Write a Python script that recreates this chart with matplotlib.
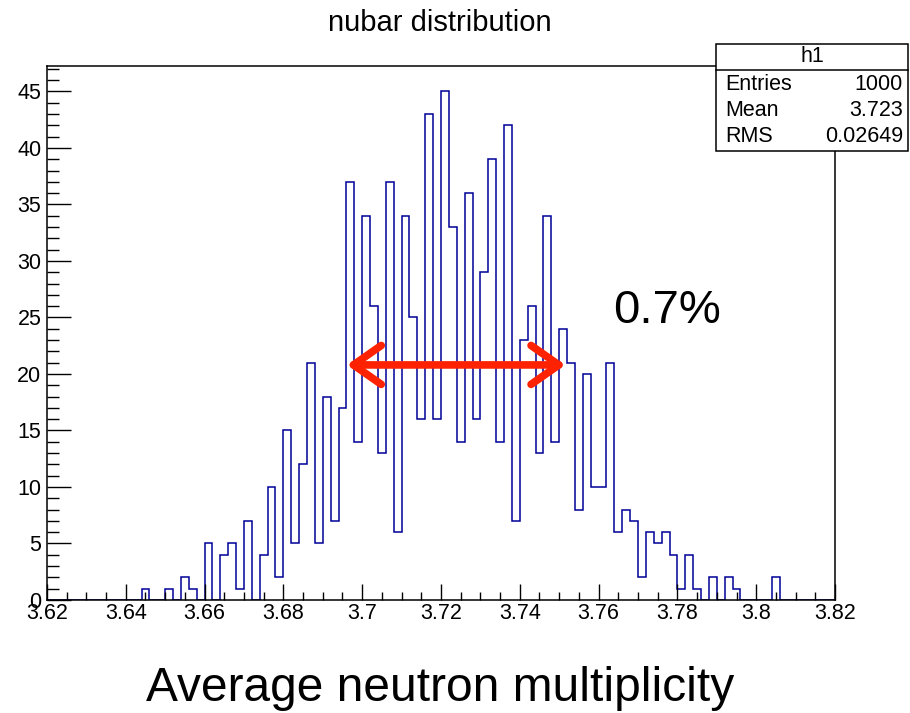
import numpy as np
import matplotlib
matplotlib.use("Agg")
import matplotlib.pyplot as plt
from matplotlib.patches import Rectangle, FancyArrowPatch

plt.rcParams['font.family'] = ['Liberation Sans', 'DejaVu Sans']

# histogram h1: 100 bins from 3.62 to 3.82
x_min, x_max, n_bins = 3.62, 3.82, 100
counts = [0, 0, 0, 0, 0, 0, 0, 0, 0, 0,
          0, 0, 1, 0, 0, 1, 0, 2, 1, 0,
          5, 0, 4, 5, 1, 7, 0, 4, 10, 2,
          15, 5, 12, 21, 5, 18, 7, 17, 37, 14,
          34, 26, 13, 37, 6, 34, 25, 16, 43, 16,
          45, 33, 14, 36, 16, 29, 39, 14, 42, 7,
          23, 26, 13, 34, 14, 24, 21, 8, 20, 10,
          10, 21, 6, 8, 7, 2, 6, 5, 6, 4,
          1, 4, 1, 0, 2, 0, 2, 1, 0, 0,
          0, 0, 2, 0, 0, 0, 0, 0, 0, 0]
stats_labels = ['Entries', 'Mean', 'RMS']
stats_values = ['1000', '3.723', '0.02649']
arrow_span = (3.6961, 3.7516)
arrow_level = 20.8

edges = np.linspace(x_min, x_max, n_bins + 1)

fig = plt.figure(figsize=(9.1, 7.13), dpi=100)
ax = fig.add_axes([0.0516, 0.1585, 0.8660, 0.7489])

ax.stairs(counts, edges, color='#000099', lw=1.1)

ax.set_xlim(x_min, x_max)
ax.set_ylim(0, max(counts) * 1.05)
ax.set_xticks(np.arange(3.62, 3.8201, 0.02))
ax.set_xticklabels(['3.62', '3.64', '3.66', '3.68', '3.7', '3.72',
                    '3.74', '3.76', '3.78', '3.8', '3.82'])
ax.set_xticks(np.arange(3.62, 3.8201, 0.005), minor=True)
ax.set_yticks(np.arange(0, 46, 5))
ax.set_yticks(np.arange(0, 48, 1), minor=True)

ax.tick_params(axis='x', which='major', direction='in', length=11.5, width=1,
               labelsize=15.5, pad=2)
ax.tick_params(axis='x', which='minor', direction='in', length=5.8, width=1)
ax.tick_params(axis='y', which='major', direction='in', length=17, width=1,
               labelsize=15.5, pad=4)
ax.tick_params(axis='y', which='minor', direction='in', length=8.5, width=1)
for s in ax.spines.values():
    s.set_linewidth(1.1)

# red double arrow
arr = FancyArrowPatch((arrow_span[0], arrow_level), (arrow_span[1], arrow_level),
                      arrowstyle='<->,head_length=1.0,head_width=0.7',
                      color='#ff2200', lw=5.5, mutation_scale=20,
                      capstyle='round', joinstyle='round',
                      shrinkA=0, shrinkB=0, zorder=5)
ax.add_patch(arr)
ax.text(3.7638, 25.6, '0.7%', fontsize=34, ha='left', va='center')

# title and x-axis caption
fig.text(0.4835, 0.968, 'nubar distribution', fontsize=21, ha='center', va='center')
fig.text(0.4835, 0.034, 'Average neutron multiplicity', fontsize=34.5,
         ha='center', va='center')

# stats box
W, H = 910, 713
bx0, bx1, by0, by1 = 716, 908, 44, 151
fig.patches.append(Rectangle((bx0 / W, 1 - by1 / H), (bx1 - bx0) / W, (by1 - by0) / H,
                             transform=fig.transFigure, facecolor='white',
                             edgecolor='black', lw=1.1, zorder=10))
fig.add_artist(plt.Line2D([bx0 / W, bx1 / W], [1 - 70 / H, 1 - 70 / H],
                          transform=fig.transFigure, color='black', lw=1.1, zorder=11))
fig.text((bx0 + bx1) / 2 / W, 1 - 57 / H, 'h1', fontsize=15.5, ha='center',
         va='center', zorder=12)
for i, (lab, val) in enumerate(zip(stats_labels, stats_values)):
    yy = 1 - (84 + i * 26.5) / H
    fig.text(725 / W, yy, lab, fontsize=15.5, ha='left', va='center', zorder=12)
    fig.text(903 / W, yy, val, fontsize=15.5, ha='right', va='center', zorder=12)

fig.savefig('out.png', dpi=100)
